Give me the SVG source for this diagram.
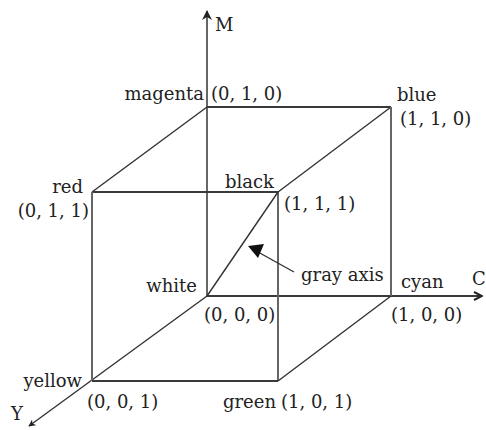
<svg xmlns="http://www.w3.org/2000/svg" width="486" height="430" viewBox="0 0 486 430">
<style>
text{font-family:"DejaVu Serif","Liberation Serif",serif;font-size:18px;fill:#222}
.e{stroke:#3a3a3a;stroke-width:2;fill:none}
.v{stroke:#666;stroke-width:2;fill:none}
.t{stroke:#333;stroke-width:1.4;fill:none}
.end{text-anchor:end}
</style>
<defs>
<marker id="ah" viewBox="0 0 10 10" refX="9" refY="5" markerWidth="5" markerHeight="5" orient="auto" markerUnits="strokeWidth">
<path d="M0,0 L10,5 L0,10 L3,5 Z" fill="#222"/>
</marker>
<marker id="open" viewBox="0 0 10 10" refX="9" refY="5" markerWidth="5" markerHeight="5" orient="auto" markerUnits="strokeWidth">
<path d="M1,1 L9,5 L1,9" fill="none" stroke="#222" stroke-width="2"/>
</marker>
</defs>
<g id="connectors">
<line class="v" x1="207" y1="296" x2="207" y2="11" marker-end="url(#ah)"/>
<line class="e" x1="207" y1="296" x2="482" y2="296" marker-end="url(#open)"/>
<line class="t" x1="207" y1="296" x2="29" y2="426" marker-end="url(#ah)"/>
<line class="e" x1="207" y1="107" x2="391" y2="107"/>
<line class="t" x1="207" y1="107" x2="92" y2="192"/>
<line class="t" x1="391" y1="107" x2="278" y2="192"/>
<line class="e" x1="92" y1="192" x2="278" y2="192"/>
<line class="v" x1="391" y1="107" x2="391" y2="296"/>
<line class="v" x1="278" y1="192" x2="278" y2="381"/>
<line class="v" x1="92" y1="192" x2="92" y2="381"/>
<line class="e" x1="92" y1="381" x2="278" y2="381"/>
<line class="t" x1="278" y1="381" x2="391" y2="296"/>
<line class="t" x1="207" y1="296" x2="278" y2="192"/>
<line class="t" x1="294" y1="272" x2="258" y2="252"/>
<path d="M248,246 L264,244 L258,258 Z" fill="#111"/>
</g>
<g id="M-axis"><text x="215" y="31">M</text></g>
<g id="C-axis"><text x="472" y="285">C</text></g>
<g id="Y-axis"><text x="11" y="420">Y</text></g>
<g id="magenta"><text class="end" x="204" y="100">magenta</text><text x="211" y="100">(0, 1, 0)</text></g>
<g id="blue"><text x="397" y="101">blue</text><text x="400" y="125">(1, 1, 0)</text></g>
<g id="red"><text class="end" x="83" y="193">red</text><text class="end" x="89" y="217">(0, 1, 1)</text></g>
<g id="black"><text class="end" x="274" y="188">black</text><text x="284" y="210">(1, 1, 1)</text></g>
<g id="white"><text class="end" x="197" y="292">white</text><text x="204" y="321">(0, 0, 0)</text></g>
<g id="gray-axis"><text x="301" y="281">gray axis</text></g>
<g id="cyan"><text x="401" y="288">cyan</text><text x="391" y="321">(1, 0, 0)</text></g>
<g id="yellow"><text class="end" x="82" y="387">yellow</text><text x="87" y="408">(0, 0, 1)</text></g>
<g id="green"><text class="end" x="276" y="408">green</text><text x="281" y="408">(1, 0, 1)</text></g>
</svg>
